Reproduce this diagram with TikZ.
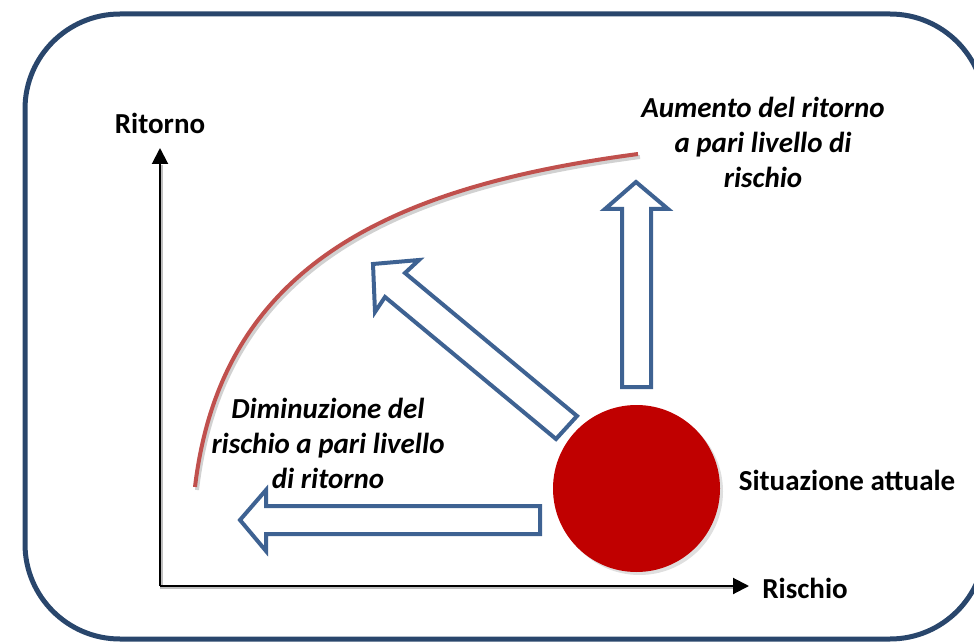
\documentclass[tikz,border=0pt]{standalone}
\usepackage{fontspec}
\setmainfont{Carlito}
\usetikzlibrary{arrows.meta,shadows}
\definecolor{framecol}{RGB}{41,70,108}
\definecolor{arrowcol}{RGB}{62,98,146}
\definecolor{curvecol}{RGB}{192,80,77}
\definecolor{dotcol}{RGB}{192,0,0}
\begin{document}
\begin{tikzpicture}[x=1pt,y=-1pt,
  lbl/.style={font=\fontsize{29}{35}\selectfont\bfseries, inner sep=0pt},
  ilbl/.style={font=\fontsize{29}{35}\selectfont\bfseries\itshape, align=center, inner sep=0pt},
  blockarrow/.style={draw=arrowcol, line width=4pt, line join=miter, fill=white},
  axisline/.style={line width=2pt, -{Triangle[length=16pt,width=16pt]}},
]
\useasboundingbox (0,0) rectangle (974,644);
\clip (0,0) rectangle (974,644);
% frame
\draw[framecol, line width=5pt, rounded corners=95pt] (25,14) rectangle (985,639);
% axes
\coordinate (o) at (160,586);
\coordinate (ytop) at (160,148);
\coordinate (xend) at (749,586);
\draw[black!25, line width=2pt] (161.5,586) -- (161.5,165);
\draw[black!25, line width=2pt] (160,587.5) -- (733,587.5);
\draw[axisline] (o) -- (ytop);
\draw[axisline] (o) -- (xend);
\node[lbl] (ylab) at (160,123) {Ritorno};
\node[lbl] (xlab) at (805,588) {Rischio};
% frontier curve
\coordinate (c0) at (195,487);
\coordinate (c1) at (638,154);
\draw[black!18, line width=4pt] (197,490) .. controls (223,270) and (390,190) .. (640,157);
\draw[curvecol, line width=4pt] (c0) .. controls (221,267) and (388,187) .. (c1);
% block arrows
\draw[blockarrow] (540,506) -- (266,506) -- (266,490) -- (240,520) -- (266,551) -- (266,534) -- (540,534) -- cycle;
\draw[blockarrow] (622,387) -- (622,209) -- (605,209) -- (636,182) -- (668,209) -- (651,209) -- (651,387) -- cycle;
\draw[blockarrow] (577,416) -- (405,273) -- (419,260) -- (373,264) -- (375,312) -- (385,297) -- (556,439) -- cycle;
% current situation
\node[circle, fill=dotcol, minimum size=167pt, inner sep=0pt,
      drop shadow={shadow xshift=3pt, shadow yshift=-3pt, opacity=0.25}] (now) at (636.5,488.5) {};
\node[lbl] (nowlab) at (847,480) {Situazione attuale};
% labels
\node[ilbl] (uplab) at (763,142) {Aumento del ritorno\\a pari livello di\\rischio};
\node[ilbl] (leftlab) at (328,443) {Diminuzione del\\rischio a pari livello\\di ritorno};
\end{tikzpicture}
\end{document}
